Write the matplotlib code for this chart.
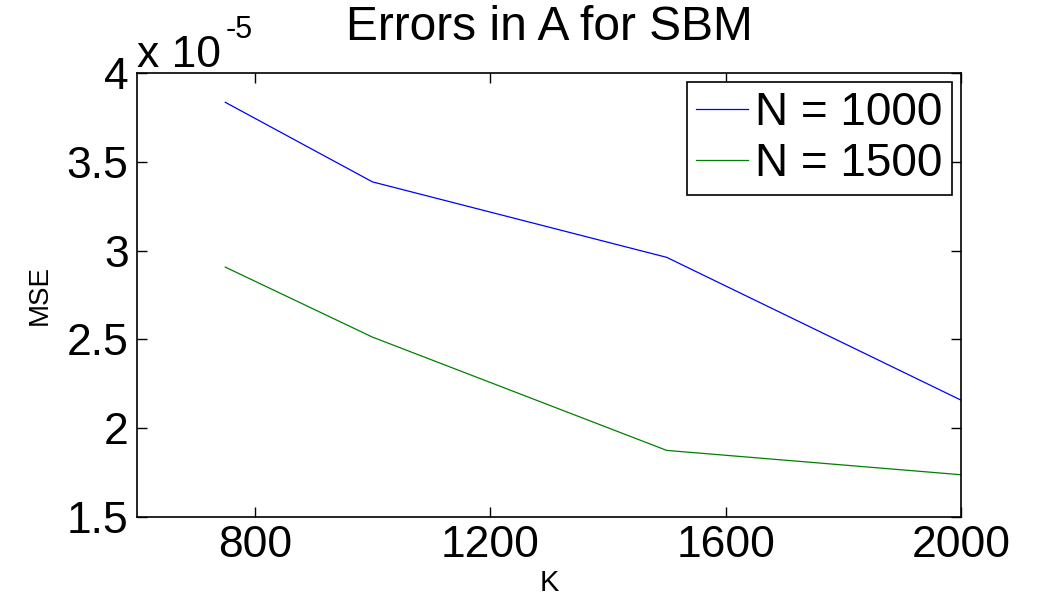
import numpy as np
import matplotlib
matplotlib.use("Agg")
import matplotlib.pyplot as plt
from matplotlib.ticker import FuncFormatter

plt.rcParams.update({
    "font.family": ["Liberation Sans", "DejaVu Sans"],
})

# datos
K = [750, 1000, 1500, 2000]
mse_n1000 = [3.835e-5, 3.387e-5, 2.962e-5, 2.158e-5]
mse_n1500 = [2.907e-5, 2.513e-5, 1.875e-5, 1.738e-5]
xticks = [800, 1200, 1600, 2000]
yticks = [1.5e-5, 2e-5, 2.5e-5, 3e-5, 3.5e-5, 4e-5]

W, H = 1062, 604
fig = plt.figure(figsize=(W / 100, H / 100), dpi=100)
ax = fig.add_axes([137 / W, 1 - 517 / H, (961 - 137) / W, (517 - 73) / H])

ax.plot(K, mse_n1000, color=(0, 0, 1), lw=0.9, label="N = 1000")
ax.plot(K, mse_n1500, color=(0, 0.5, 0), lw=0.9, label="N = 1500")

ax.set_xlim(600, 2000)
ax.set_ylim(1.5e-5, 4e-5)
ax.set_xticks(xticks)
ax.set_yticks(yticks)
ax.yaxis.set_major_formatter(FuncFormatter(lambda v, p: f"{v / 1e-5:g}"))
ax.tick_params(direction="in", length=7, width=1, labelsize=32,
               top=True, right=True, pad=6)
for s in ax.spines.values():
    s.set_linewidth(1.2)

ax.set_title("Errors in A for SBM", fontsize=34.5, pad=24)
ax.set_xlabel("K", fontsize=21, labelpad=2)
ax.set_ylabel("MSE", fontsize=20, labelpad=10)

# factor de escala estilo MATLAB
fig.text(137 / W, 1 - 67 / H, "x 10", fontsize=32, ha="left", va="baseline")
fig.text(226 / W, 1 - 38 / H, "-5", fontsize=22, ha="left", va="baseline")

leg = ax.legend(loc="upper right", fontsize=33, handlelength=1.15,
                handletextpad=0.15, borderpad=0.2, labelspacing=0.15,
                borderaxespad=0.2, fancybox=False, framealpha=1)
leg.get_frame().set_edgecolor("black")
leg.get_frame().set_linewidth(1.2)

fig.savefig("out.png", dpi=100)
